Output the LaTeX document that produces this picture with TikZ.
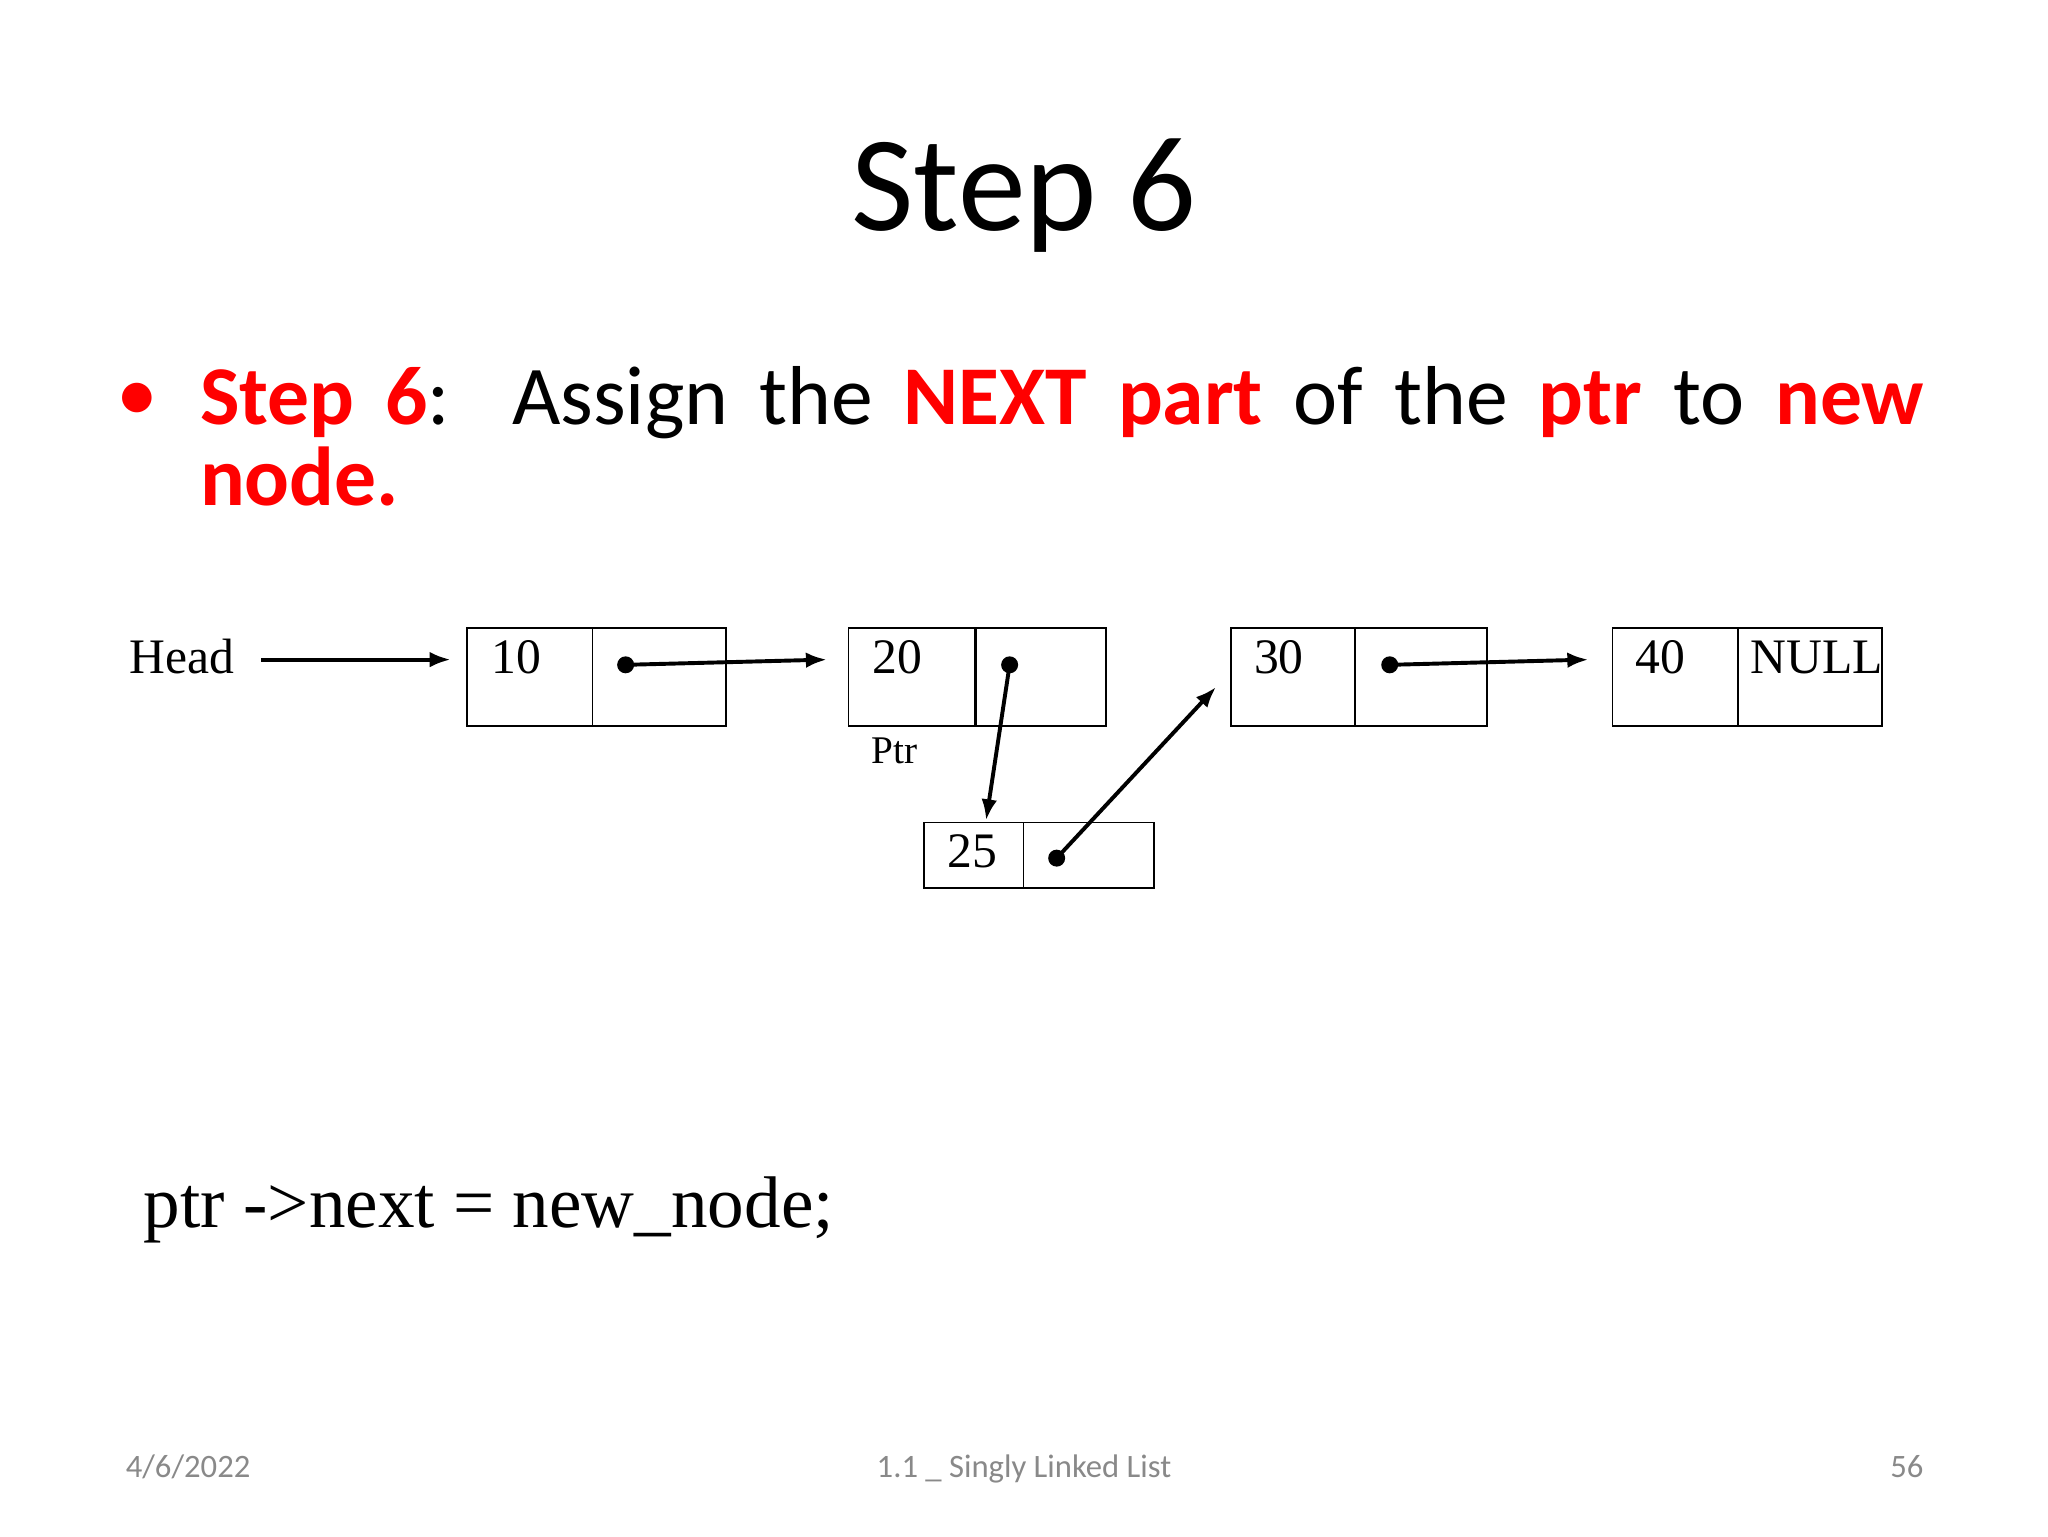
\documentclass[tikz,border=0pt]{standalone}
\usepackage{fontspec}
\setmainfont{Carlito}
\newfontfamily\timesf{Liberation Serif}
\usetikzlibrary{positioning,arrows.meta}
\definecolor{slidered}{RGB}{255,0,0}
\definecolor{footgrey}{RGB}{137,137,137}
\begin{document}
\begin{tikzpicture}[x=1pt,y=-1pt,
  cell/.style={draw,line width=1.3pt,minimum width=96,minimum height=75,inner sep=0,anchor=north west},
  val/.style={font=\timesf\fontsize{38}{38}\selectfont,anchor=west,inner sep=0},
  dot/.style={circle,fill,inner sep=0,minimum size=13},
  link/.style={-{Latex[length=16,width=12]},line width=3pt},
  foot/.style={font=\fontsize{25}{25}\selectfont,text=footgrey,anchor=base}]
\useasboundingbox (0,0) rectangle (1568,1176);
% title and text
\node (title) at (784,150) {\fontsize{104}{104}\selectfont Step 6};
\node[text=slidered] (bul) at (105,308) {\fontsize{64}{64}\selectfont\textbullet};
\node[anchor=north west,text width=1320,align=justify,inner sep=0,font=\fontsize{64}{62}\selectfont] (txt) at (153,280)
  {\textbf{\color{slidered}Step 6}:\ \ Assign the \textbf{\color{slidered}NEXT part} of the \textbf{\color{slidered}ptr} to \textbf{\color{slidered}new node.}};
% list
\node[val] (head) at (99,503) {Head};
\coordinate (h) at (200,505);
\coordinate (ha) at (345,505);
\node[cell] (a1) at (357,480) {}; \node[cell,minimum width=102] (a2) at (453,480) {};
\node[cell,minimum width=98] (b1) at (649,480) {}; \node[cell,minimum width=100] (b2) at (746,480) {};
\node[cell,minimum width=95] (c1) at (942,480) {}; \node[cell,minimum width=101] (c2) at (1037,480) {};
\node[cell] (d1) at (1234,480) {}; \node[cell,minimum width=110] (d2) at (1330,480) {};
\node[cell,minimum width=76,minimum height=50] (n1) at (707,629) {}; \node[cell,minimum width=100,minimum height=50] (n2) at (783,629) {};
\node[val] at (376,503) {10};
\node[val] at (668,503) {20};
\node[val] at (960,503) {30};
\node[val] at (1252,503) {40};
\node[val] at (1340,503) {NULL};
\node[val] at (725,652) {25};
\node[val,font=\timesf\fontsize{30}{30}\selectfont] (ptr) at (667,575) {Ptr};
% pointers
\node[dot] (pa) at (479,509) {};
\node[dot] (pb) at (773,509) {};
\node[dot] (pc) at (1064,509) {};
\node[dot] (pn) at (809,657) {};
\coordinate (tb) at (633,505);
\coordinate (tn) at (755,628);
\coordinate (tc) at (931,526);
\coordinate (td) at (1216,505);
\draw[link] (h) -- (ha);
\draw[link] (pa.center) -- (tb);
\draw[link] (pb.center) -- (tn);
\draw[link] (pn.center) -- (tc);
\draw[link] (pc.center) -- (td);
% code
\node[anchor=base west,inner sep=0,font=\timesf\fontsize{56}{56}\selectfont] (code) at (110,940) {ptr ->next = new\_node;};
% footer
\node[foot] (date) at (144,1131) {4/6/2022};
\node[foot] (course) at (784,1131) {1.1 \_ Singly Linked List};
\node[foot] (page) at (1460,1131) {56};
\end{tikzpicture}
\end{document}
